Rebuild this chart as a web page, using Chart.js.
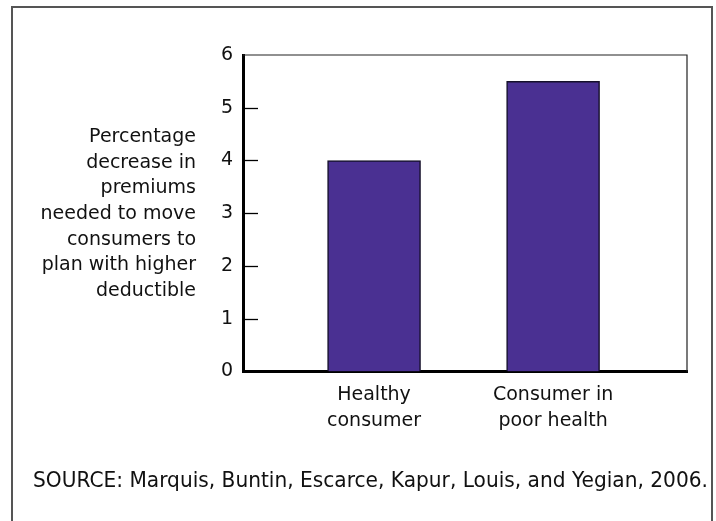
<!DOCTYPE html>
<html>
<head>
<meta charset="utf-8">
<script src="https://cdn.jsdelivr.net/npm/chart.js@4"></script>
<style>
  body { margin: 0; background: #fff; }
  .frame {
    position: absolute; left: 11px; top: 6px; width: 698px; height: 530px;
    border: 2px solid #555; border-bottom: none;
  }
  .wrap { position: absolute; left: 0; top: 0; width: 716px; height: 521px; }
</style>
</head>
<body>
<div class="frame"></div>
<div class="wrap"><canvas id="myChart" width="716" height="521"></canvas></div>
<script>
// DATA
const categories = [['Healthy', 'consumer'], ['Consumer in', 'poor health']];
const values = [4, 5.5];
const yTicks = [0, 1, 2, 3, 4, 5, 6];
const yTitle = ['Percentage', 'decrease in', 'premiums', 'needed to move', 'consumers to', 'plan with higher', 'deductible'];
const source = 'SOURCE: Marquis, Buntin, Escarce, Kapur, Louis, and Yegian, 2006.';

const purple = '#4a3092';
const font = { family: '"DejaVu Sans", sans-serif', size: 19 };

// box lines, inner ticks and the y title
const extras = {
  id: 'extras',
  afterDraw(chart) {
    const c = chart.ctx;
    const a = chart.chartArea;
    const y = chart.scales.y;
    c.save();
    c.strokeStyle = '#222';
    c.lineWidth = 1.2;
    c.beginPath();
    c.moveTo(a.left, a.top);
    c.lineTo(a.right, a.top);
    c.lineTo(a.right, a.bottom);
    c.stroke();

    c.strokeStyle = '#000';
    c.lineWidth = 1.3;
    yTicks.forEach(function(t) {
      if (t === 0 || t === 6) return;
      const py = Math.round(y.getPixelForValue(t)) + 0.5;
      c.beginPath();
      c.moveTo(a.left, py);
      c.lineTo(a.left + 15, py);
      c.stroke();
    });

    c.fillStyle = '#111';
    c.font = font.size + 'px ' + font.family;
    c.textAlign = 'right';
    c.textBaseline = 'middle';
    const lh = 25.7;
    const mid = 214;
    yTitle.forEach(function(line, i) {
      c.fillText(line, 196, mid + (i - (yTitle.length - 1) / 2) * lh);
    });
    c.restore();
  }
};

const ctx = document.getElementById('myChart');

const myChart = new Chart(ctx, {
  type: 'bar',
  data: {
    datasets: [{
      data: values.map((v, i) => ({ x: i + 1, y: v })),
      backgroundColor: purple,
      borderColor: '#15102a',
      borderWidth: 1.5,
      borderSkipped: 'bottom',
      barThickness: 93
    }]
  },
  plugins: [extras],
  options: {
    responsive: false,
    animation: false,
    layout: { padding: { left: 33, right: 8, top: 55, bottom: 17 } },
    plugins: {
      legend: { display: false },
      tooltip: { enabled: false },
      title: {
        display: true,
        position: 'bottom',
        align: 'start',
        text: source,
        color: '#111',
        font: { family: font.family, size: 20.5, weight: 'normal', lineHeight: 1.2 },
        padding: { top: 18, bottom: 10 }
      }
    },
    scales: {
      x: {
        type: 'linear',
        offset: false,
        min: 0.268,
        max: 2.748,
        grid: { display: false, drawTicks: false, offset: false },
        border: { display: true, width: 3, color: '#000' },
        afterBuildTicks: function(scale) {
          scale.ticks = categories.map((c, i) => ({ value: i + 1 }));
        },
        afterFit: function(scale) { scale.height = 80; },
        ticks: {
          autoSkip: false,
          maxRotation: 0,
          padding: 11,
          color: '#111',
          font: { family: font.family, size: font.size, lineHeight: 1.36 },
          callback: function(value) { return categories[value - 1]; }
        }
      },
      y: {
        min: 0,
        max: 6,
        afterBuildTicks: function(scale) {
          scale.ticks = yTicks.map(v => ({ value: v }));
        },
        afterFit: function(scale) { scale.width = 210; },
        grid: { display: false, drawTicks: false },
        border: { display: true, width: 3, color: '#000' },
        ticks: {
          padding: 10,
          color: '#111',
          font: { family: font.family, size: font.size }
        }
      },
      // empty spacer on the right so the plot box stops short of the source line
      yRight: {
        position: 'right',
        grid: { display: false, drawTicks: false },
        border: { display: false },
        ticks: { display: false },
        afterFit: function(scale) { scale.width = 21; }
      }
    }
  }
});
</script>
</body>
</html>
